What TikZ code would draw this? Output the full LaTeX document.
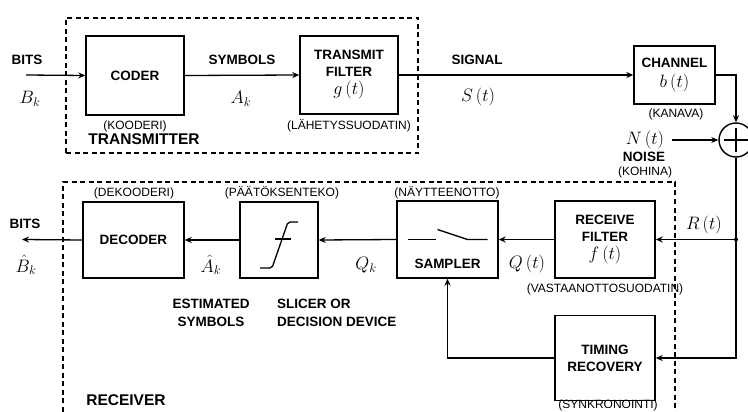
\documentclass[tikz,border=0pt]{standalone}
\usepackage{fix-cm}
\usepackage{fontspec}
\setmainfont{Liberation Sans}
\usetikzlibrary{arrows.meta,positioning,calc}

\newcommand{\msym}[1]{{\fontsize{18}{20}\selectfont$#1$}}

\begin{document}
\begin{tikzpicture}[
  x=1pt, y=-1pt,
  % === Node styles ===
  block/.style={
    draw, line width=1.4pt,
    font=\fontsize{13.5}{17}\selectfont\bfseries,
    align=center, inner sep=0pt
  },
  sumnode/.style={
    draw, circle, line width=1.4pt,
    minimum size=34pt, inner sep=0pt
  },
  % === Label styles ===
  caps/.style={font=\fontsize{13.5}{18}\selectfont\bfseries, align=center, inner sep=1pt},
  capsleft/.style={caps, align=left},
  paren/.style={font=\fontsize{12}{14}\selectfont, inner sep=1pt},
  sym/.style={font=\fontsize{18}{20}\selectfont, inner sep=0pt},
  % === Line styles ===
  arr/.style={-{Stealth[length=7pt,width=6pt]}, line width=1.3pt},
  wire/.style={line width=1.3pt},
  frame/.style={dash pattern=on 5pt off 3.5pt, line width=1.4pt},
]

\useasboundingbox (0,0) rectangle (748,412);

% =============================================
% Transmitter
% =============================================
\node[frame, draw, minimum width=352pt, minimum height=135pt] (txframe) at (242,85.5) {};

\node[block, minimum width=98pt, minimum height=79pt] (coder) at (135,75.5) {CODER};
\node[block, minimum width=98pt, minimum height=78pt] (txf) at (349,75) {TRANSMIT\\FILTER\\[1pt]\msym{g\,(t)}};

\node[paren] (coderfi) at (135,126) {(KOODERI)};
\node[paren] (txffi) at (349,126) {(LÄHETYSSUODATIN)};
\node[caps, font=\fontsize{15.5}{18}\selectfont\bfseries] (txlbl) at (144,139) {TRANSMITTER};

\coordinate (bitsin) at (26,75);
\node[caps] (bitstx) at (27,60) {BITS};
\node[sym] (bk) at (30,99) {$B_k$};
\node[caps] (symtx) at (242,60) {SYMBOLS};
\node[sym] (ak) at (241,99) {$A_k$};
\node[caps] (siglbl) at (477,60) {SIGNAL};
\node[sym] (st) at (478,97) {$S\,(t)$};

\draw[arr] (bitsin) -- (coder.west);
\draw[arr] (coder.east) -- (txf.west);

% =============================================
% Channel and noise
% =============================================
\node[block, minimum width=81pt, minimum height=58pt] (chan) at (674.5,75) {CHANNEL\\[3pt]\msym{b\,(t)}};
\node[paren] (chanfi) at (676,114) {(KANAVA)};

\node[sumnode] (sum) at (736,140) {};
\draw[line width=1.4pt] ($(sum)+(-12,0)$) -- ($(sum)+(12,0)$);
\draw[line width=1.4pt] ($(sum)+(0,-12)$) -- ($(sum)+(0,12)$);

\node[sym] (nt) at (645,140) {$N\,(t)$};
\node[caps] (noiselbl) at (644,157) {NOISE};
\node[paren] (noisefi) at (645,172) {(KOHINA)};

\draw[arr] (txf.east) -- (chan.west);
\draw[arr] (chan.east) -| (sum.north);
\draw[arr] ([xshift=8pt]nt.east) -- (sum.west);

% =============================================
% Receiver
% =============================================
\draw[frame] (63,420) |- (675,182) -- (675,420);

\node[block, minimum width=101pt, minimum height=76pt] (decoder) at (133.5,240) {DECODER};
\node[block, minimum width=78pt, minimum height=76pt] (slicer) at (279,240) {};
\node[block, minimum width=101pt, minimum height=77pt] (sampler) at (447.5,239.5) {};
\node[block, minimum width=100pt, minimum height=77pt] (rxf) at (605,239.5) {RECEIVE\\FILTER\\[1pt]\msym{f\,(t)}};
\node[block, minimum width=100pt, minimum height=85pt] (timing) at (605,358) {TIMING\\RECOVERY};

% slicer characteristic
\draw[wire, rounded corners=2pt] ($(slicer)+(-19,28)$) -- ($(slicer)+(-7,28)$)
  -- ($(slicer)+(9,-18)$) -- ($(slicer)+(19,-18)$);
\draw[wire] ($(slicer)+(-4,-1)$) -- ($(slicer)+(12,-1)$);

% sampler switch
\draw[wire] ($(sampler)+(-40,0)$) -- ($(sampler)+(-12,0)$);
\draw[wire] ($(sampler)+(-10,-10)$) -- ($(sampler)+(20,0)$) -- ($(sampler)+(40,0)$);
\node[caps] (samplerlbl) at ($(sampler)+(0,24)$) {SAMPLER};

% labels
\node[paren] (decfi) at (134,193) {(DEKOODERI)};
\node[paren] (slicefi) at (282,193) {(PÄÄTÖKSENTEKO)};
\node[paren] (sampfi) at (447,193) {(NÄYTTEENOTTO)};
\node[paren] (rxffi) at (605,289) {(VASTAANOTTOSUODATIN)};
\node[paren] (timfi) at (608,405) {(SYNKRONOINTI)};

\coordinate (bitsout) at (22,239.5);
\node[caps] (bitsrx) at (25,224) {BITS};
\node[sym] (bkhat) at (26,265) {$\hat B_k$};
\node[sym] (akhat) at (211,265) {$\hat A_k$};
\node[sym] (qk) at (366,265) {$Q_k$};
\node[sym] (qt) at (527,264) {$Q\,(t)$};
\node[sym] (rt) at (704,225) {$R\,(t)$};

\node[caps] (estlbl) at (211,313) {ESTIMATED\\SYMBOLS};
\node[capsleft, anchor=west] (slicelbl) at (276,313) {SLICER OR\\DECISION DEVICE};
\node[caps, font=\fontsize{15.5}{18}\selectfont\bfseries] (rxlbl) at (126,400) {RECEIVER};

% =============================================
% Receiver connections
% =============================================
\coordinate (rtap) at (736,239.5);
\draw[wire] (sum.south) -- (rtap);
\draw[arr] (rtap) |- (timing.east);
\draw[arr] (rtap) -- (rxf.east);
\fill (rtap) circle (2pt);

\draw[arr] (rxf.west) -- (sampler.east);
\draw[arr] (sampler.west) -- (slicer.east);
\draw[arr] (slicer.west) -- (decoder.east);
\draw[arr] (decoder.west) -- (bitsout);
\draw[arr] (timing.west) -| (sampler.south);

\end{tikzpicture}
\end{document}
